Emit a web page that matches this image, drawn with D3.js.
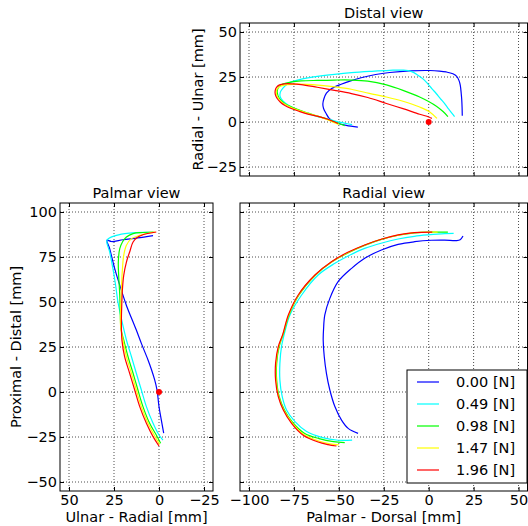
<!DOCTYPE html>
<html>
<head>
<meta charset="utf-8">
<script src="https://d3js.org/d3.v7.min.js"></script>
<style>
  body { margin: 0; background: #fff; }
  svg text { font-family: "DejaVu Sans", sans-serif; font-size: 14.5px; fill: #000; }
</style>
</head>
<body>
<svg id="chart" width="528" height="526"></svg>
<script>

var forces = ["0.00 [N]", "0.49 [N]", "0.98 [N]", "1.47 [N]", "1.96 [N]"];
var colors = ["#0000ff", "#00ffff", "#00ff00", "#ffff00", "#ff0000"];

// tick values
var pdTicks = [-100, -75, -50, -25, 0, 25, 50];      // palmar - dorsal
var ruTicks = [-25, 0, 25, 50];                       // radial - ulnar
var prTicks = [-50, -25, 0, 25, 50, 75, 100];         // proximal - distal
var urTicks = [50, 25, 0, -25];                       // ulnar - radial (reversed)

// distal view: [palmar-dorsal, radial-ulnar], one trace per force
var distal000 = [[-39.4,-2.8],[-45.9,-1.9],[-52.4,0],[-55.5,2.2],[-57,4.6],[-58.5,7.5],[-58.9,10],[-58.3,12.9],[-56.9,16],[-54,18.6],[-48.7,21],[-43,23],[-37.6,24.6],[-29.5,26.4],[-21.7,27.5],[-10.6,28.4],[0.6,28.6],[6,28.3],[9.8,27.8],[13.5,26.8],[15.6,25.4],[16.9,23],[17.6,20.4],[18.1,16],[18.4,12.5],[18.6,8],[18.7,3.5]];
var distal049 = [[-42.6,-1.5],[-47,-0.6],[-52,0.5],[-56.5,1.8],[-61.7,3],[-67,4.6],[-71,6],[-75,7.6],[-78.3,9.4],[-81,11.6],[-82.6,14],[-82.6,16.5],[-81.1,18.8],[-78.8,21],[-76.5,22.3],[-72,23.5],[-67.2,24.5],[-60,25.6],[-52.4,26.5],[-43,27.4],[-32.8,28.1],[-21.7,28.7],[-14,28.8],[-9.5,28],[-6,26],[-3,23.8],[-0.5,21.2],[2,18.3],[4.3,15.7],[6.5,13],[8.9,10.2],[10.5,8],[11.7,6.5],[13,4.8],[14.4,3]];
var distal098 = [[-46.7,-2],[-50,-0.8],[-56,1.4],[-61.5,3.1],[-67,4.9],[-72,6.6],[-76.5,8.4],[-80,10.2],[-82.3,12.2],[-83.8,14.5],[-84.3,17.2],[-83.3,19.6],[-81,21.2],[-76,22.3],[-71,22.8],[-62,23.1],[-52.4,23.3],[-43,23.3],[-33.9,22.7],[-23.5,20.6],[-14.3,17.6],[-5,13.9],[4.3,8.8],[8,5.8],[10.7,3]];
var distal147 = [[-50,-1.3],[-53,-0.2],[-56,1.2],[-61,3],[-67,4.7],[-72,6.3],[-76.5,8],[-80,9.8],[-82.4,11.6],[-84,13.6],[-84.8,16],[-84.4,18.3],[-82.6,19.9],[-78.3,20.8],[-72,21],[-61.7,20.5],[-52,19.5],[-43.1,18.2],[-33,15.9],[-23.5,13.9],[-14.3,11.5],[-5,8.3],[0.6,5.6],[4.6,2]];
var distal196 = [[-50.5,-0.8],[-53,0.3],[-56.1,1.5],[-61,3],[-67.2,4.4],[-72,5.9],[-76.5,7.5],[-80,9.2],[-82.5,11],[-84.5,13.3],[-85.4,15.5],[-85.4,17.6],[-84.6,19.4],[-83,20.6],[-80.2,21.2],[-76,21.2],[-71,20.8],[-62,19.3],[-52.4,17.6],[-43,15.8],[-33.9,13.6],[-23.5,10.3],[-14.3,7.4],[-5,4.3],[0,2.8],[1.8,2]];

// palmar view: [ulnar-radial, proximal-distal]
var palmar000 = [[-2.6,-22.9],[-1.3,-15.6],[0,-8.1],[1.1,1.1],[2.4,6.7],[4.2,12.5],[6.1,17.8],[9.8,27],[12.6,34.4],[14.4,38.9],[18.1,48.1],[21.8,59.3],[24.6,68.5],[27.4,79.6],[28.9,84.3],[26.4,83.6],[20,84.6],[12,85.6],[3.3,86.9]];
var palmar049 = [[-2.2,-26.7],[0,-23.9],[3.3,-17.4],[7,-8.1],[9.8,1.1],[12.6,10.4],[15.3,19.6],[18.1,28.9],[20.9,40.7],[22.8,50],[24.1,59.3],[25.6,68.5],[27.4,77.8],[28.9,84.3],[23.7,87],[16.3,88.3],[8,88.7],[4,88.6]];
var palmar098 = [[-0.9,-28.5],[1.5,-23.9],[5.2,-17.4],[8.9,-8.1],[11.7,1.1],[14.4,10.4],[17.2,19.6],[19.6,28.9],[21.1,35],[21.5,42.6],[21.8,53.7],[22.4,64.8],[22.6,72.2],[21.8,79.6],[20.3,83.3],[18.1,86.1],[14.4,88],[8.9,88.6],[3,88.9]];
var palmar147 = [[-0.4,-29.1],[2.4,-24.4],[6.1,-17.4],[9.8,-8.1],[12.6,1.1],[15.3,10.4],[18.1,19.6],[20,28.9],[21.3,36],[21.3,46.3],[20.9,57.4],[20.3,68.5],[19.6,75.9],[18.1,81.5],[15.3,85.2],[10.7,87],[6,88.2],[2,88.8]];
var palmar196 = [[0,-30],[3.3,-24.8],[7,-17.4],[10.7,-8.1],[13.5,1.1],[16.3,10.4],[19.1,19.6],[20.6,28.9],[20.9,38.9],[20.7,48.1],[20.3,57.4],[19.6,64.8],[18.1,72.2],[16.3,77.8],[14.4,83.3],[11.7,86.1],[7,87.9],[1.5,88.9]];

// radial view: [palmar-dorsal, proximal-distal]
var radial000 = [[-39.3,-23],[-44.8,-20.2],[-48.5,-15.6],[-52.2,-8.1],[-55,1.1],[-56.9,10.4],[-58.1,19.6],[-58.7,28.9],[-58.5,35],[-57.8,42.8],[-55,52],[-50.4,61.3],[-42.9,68.7],[-35.6,74.3],[-26.3,78.9],[-17,82],[-7.8,83.5],[1.5,84.3],[8.9,84.4],[15.4,84.1],[17.5,84.6],[19.1,86.7]];
var radial049 = [[-42.6,-26.7],[-50.4,-26.8],[-59.6,-25.2],[-67.9,-22],[-74.4,-16.5],[-79.1,-10],[-81.5,-2.6],[-82.8,6.7],[-82.8,15.9],[-81.9,25.2],[-80,33.5],[-77.2,42.8],[-70.7,53.9],[-61.5,65],[-52.2,71.5],[-44,76],[-35.6,79.8],[-26,82.8],[-17,85],[-8,86.5],[-0.4,87.3],[8.9,88],[13.9,88.1]];
var radial098 = [[-46.7,-28.1],[-53,-27.6],[-61,-25.9],[-69.2,-22.9],[-75.8,-16.8],[-80.4,-9.7],[-83.2,-2.5],[-84.6,6.7],[-84.6,15.9],[-83.2,25.2],[-80.8,32.5],[-77.7,42.8],[-72.2,53.9],[-63,65],[-53.8,72.3],[-44.7,77.4],[-35.3,81.6],[-25.8,84.9],[-16.8,87.1],[-7.8,88.4],[2,88.8],[10.7,88.8]];
var radial147 = [[-50,-29.4],[-55,-28.8],[-61.2,-27.2],[-69.5,-23.6],[-76,-17.1],[-80.7,-9.9],[-83.5,-2.6],[-84.9,6.7],[-84.9,15.9],[-83.5,25.2],[-81,32.3],[-77.9,42.8],[-72.4,53.9],[-63.1,65],[-53.9,72.4],[-44.8,77.5],[-35.4,81.7],[-25.9,85],[-16.9,87.2],[-7.9,88.5],[2,88.8],[5,88.8]];
var radial196 = [[-51.3,-30],[-56,-29.2],[-61.5,-27.8],[-69.8,-24],[-76.3,-17.4],[-80.9,-10],[-83.7,-2.6],[-85.2,6.7],[-85.2,15.9],[-83.7,25.2],[-81.2,32],[-78.1,42.8],[-72.6,53.9],[-63.3,65],[-54.1,72.4],[-45,77.6],[-35.6,81.7],[-26,85],[-17,87.3],[-8,88.5],[2,88.8]];

var origin = [[0, 0]];

var svg = d3.select("#chart");

function drawPanel(p) {
    var g = svg.append("g");

    var x = d3.scaleLinear().domain(p.xDomain).range([p.left, p.right]),
        y = d3.scaleLinear().domain(p.yDomain).range([p.bottom, p.top]);

    // dotted grid
    g.selectAll(".gridx")
        .data(p.xTicks)
        .enter().append("line")
        .attr("x1", function(d) { return x(d); })
        .attr("x2", function(d) { return x(d); })
        .attr("y1", p.top)
        .attr("y2", p.bottom)
        .attr("stroke", "#000")
        .attr("stroke-width", 0.7)
        .attr("stroke-dasharray", "1,2");

    g.selectAll(".gridy")
        .data(p.yTicks)
        .enter().append("line")
        .attr("x1", p.left)
        .attr("x2", p.right)
        .attr("y1", function(d) { return y(d); })
        .attr("y2", function(d) { return y(d); })
        .attr("stroke", "#000")
        .attr("stroke-width", 0.7)
        .attr("stroke-dasharray", "1,2");

    var line = d3.line()
        .x(function(d) { return x(d[0]); })
        .y(function(d) { return y(d[1]); })
        .curve(d3.curveCatmullRom.alpha(0.5));

    g.selectAll(".trace")
        .data(p.traces)
        .enter().append("path")
        .attr("class", "trace")
        .attr("d", line)
        .attr("fill", "none")
        .attr("stroke", function(d, i) { return colors[i]; })
        .attr("stroke-width", 1.2);

    if (p.dot) {
        g.selectAll(".dot")
            .data(origin)
            .enter().append("circle")
            .attr("cx", function(d) { return x(d[0]); })
            .attr("cy", function(d) { return y(d[1]); })
            .attr("r", 3)
            .attr("fill", "#ff0000");
    }

    // ticks point inward on all four sides
    var fmt = d3.format("d");
    var bottom = g.append("g")
        .attr("transform", "translate(0," + p.bottom + ")")
        .call(d3.axisBottom(x).tickValues(p.xTicks).tickSize(-4).tickPadding(4)
            .tickFormat(p.xLabels ? fmt : ""));
    g.append("g")
        .attr("transform", "translate(0," + p.top + ")")
        .call(d3.axisTop(x).tickValues(p.xTicks).tickSize(-4).tickFormat(""));
    g.append("g")
        .attr("transform", "translate(" + p.left + ",0)")
        .call(d3.axisLeft(y).tickValues(p.yTicks).tickSize(-4).tickPadding(3)
            .tickFormat(p.yLabels ? fmt : ""));
    g.append("g")
        .attr("transform", "translate(" + p.right + ",0)")
        .call(d3.axisRight(y).tickValues(p.yTicks).tickSize(-4).tickFormat(""));

    g.selectAll(".domain").remove();

    g.append("rect")
        .attr("x", p.left)
        .attr("y", p.top)
        .attr("width", p.right - p.left)
        .attr("height", p.bottom - p.top)
        .attr("fill", "none")
        .attr("stroke", "#000")
        .attr("stroke-width", 1);

    g.append("text")
        .attr("x", (p.left + p.right) / 2)
        .attr("y", p.top - 5)
        .attr("text-anchor", "middle")
        .text(p.title);

    if (p.xTitle) {
        g.append("text")
            .attr("x", (p.left + p.right) / 2)
            .attr("y", 521.5)
            .attr("text-anchor", "middle")
            .text(p.xTitle);
    }
    if (p.yTitle) {
        g.append("text")
            .attr("transform", "translate(" + p.yTitleX + "," + (p.top + p.bottom) / 2 + ") rotate(-90)")
            .attr("text-anchor", "middle")
            .text(p.yTitle);
    }

    return { x: x, y: y, g: g };
}

drawPanel({
    title: "Distal view",
    left: 240, right: 527.5, top: 23, bottom: 176,
    xDomain: [-105, 55], yDomain: [-30, 55],
    xTicks: pdTicks, yTicks: ruTicks,
    xLabels: false, yLabels: true,
    yTitle: "Radial - Ulnar [mm]", yTitleX: 203,
    traces: [distal000, distal049, distal098, distal147, distal196],
    dot: true
});

drawPanel({
    title: "Palmar view",
    left: 60, right: 213, top: 203, bottom: 491,
    xDomain: [55, -30], yDomain: [-55, 105],
    xTicks: urTicks, yTicks: prTicks,
    xLabels: true, yLabels: true,
    xTitle: "Ulnar - Radial [mm]",
    yTitle: "Proximal - Distal [mm]", yTitleX: 21,
    traces: [palmar000, palmar049, palmar098, palmar147, palmar196],
    dot: true
});

var radial = drawPanel({
    title: "Radial view",
    left: 240, right: 527.5, top: 203, bottom: 491,
    xDomain: [-105, 55], yDomain: [-55, 105],
    xTicks: pdTicks, yTicks: prTicks,
    xLabels: true, yLabels: false,
    xTitle: "Palmar - Dorsal [mm]",
    traces: [radial000, radial049, radial098, radial147, radial196],
    dot: false
});

// legend, lower right of the radial view
var legend = radial.g.append("g").attr("transform", "translate(407,370)");

legend.append("rect")
    .attr("x", 0).attr("y", 0)
    .attr("width", 120).attr("height", 113)
    .attr("fill", "#fff")
    .attr("stroke", "#000")
    .attr("stroke-width", 1);

var item = legend.selectAll(".item")
    .data(forces)
    .enter().append("g")
    .attr("transform", function(d, i) { return "translate(0," + (12 + i * 22) + ")"; });

item.append("line")
    .attr("x1", 10).attr("x2", 32)
    .attr("y1", 0).attr("y2", 0)
    .attr("stroke", function(d, i) { return colors[i]; })
    .attr("stroke-width", 1.2);

item.append("text")
    .attr("x", 49)
    .attr("y", 0)
    .attr("dy", "0.36em")
    .text(function(d) { return d; });

</script>
</body>
</html>
